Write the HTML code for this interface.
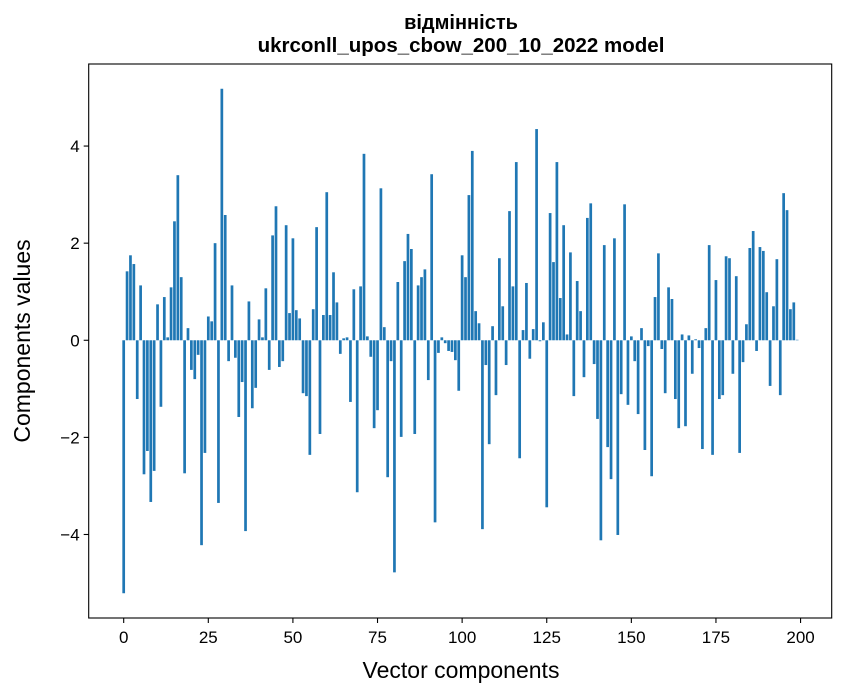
<!DOCTYPE html>
<html><head><meta charset="utf-8"><style>
html,body{margin:0;padding:0;background:#fff;}
svg{display:block;font-family:"Liberation Sans","DejaVu Sans",sans-serif;}
</style></head><body>
<svg id="chart" width="847" height="696" viewBox="0 0 847 696">
<rect width="847" height="696" fill="#fff"/>
<text x="461" y="29" text-anchor="middle" font-size="20" font-weight="bold">відмінність</text>
<text x="461" y="52" text-anchor="middle" font-size="20.5" font-weight="bold">ukrconll_upos_cbow_200_10_2022 model</text>
<g id="bars"></g>
<g id="xticks"></g>
<g id="yticks"></g>
<rect x="88.7" y="64" width="743" height="554" fill="none" stroke="#000" stroke-width="1.1"/>
<text x="461" y="678" text-anchor="middle" font-size="23">Vector components</text>
<text transform="translate(30,341) rotate(-90)" text-anchor="middle" font-size="23">Components values</text>
</svg>
<script>
const values = [-5.21,1.42,1.75,1.57,-1.21,1.13,-2.76,-2.28,-3.33,-2.69,
0.74,-1.37,0.89,0.06,1.09,2.45,3.40,1.30,-2.74,0.25,
-0.61,-0.80,-0.30,-4.22,-2.32,0.49,0.39,2.0,-3.35,5.18,
2.58,-0.43,1.13,-0.36,-1.58,-0.86,-3.93,0.80,-1.40,-0.98,
0.43,0.06,1.07,-0.61,2.16,2.76,-0.55,-0.43,2.37,0.56,
2.10,0.62,0.45,-1.09,-1.15,-2.36,0.64,2.33,-1.93,0.52,
3.05,0.52,1.40,0.78,-0.28,0.04,0.06,-1.27,1.05,-3.13,
1.11,3.84,0.08,-0.34,-1.81,-1.44,3.13,0.27,-2.82,-0.43,
-4.78,1.20,-1.99,1.63,2.19,1.88,-1.93,1.13,1.30,1.46,
-0.82,3.42,-3.75,-0.26,0.06,-0.06,-0.22,-0.24,-0.41,-1.04,
1.75,1.30,2.99,3.90,0.60,0.35,-3.89,-0.51,-2.14,0.29,
-1.13,1.69,0.70,-0.51,2.66,1.11,3.67,-2.43,0.21,1.18,
-0.38,0.23,4.35,-0.02,0.37,-3.44,2.62,1.61,3.67,0.87,
2.37,0.12,1.81,-1.15,1.22,0.60,-0.76,2.52,2.82,-0.49,
-1.62,-4.12,1.96,-2.20,-2.86,2.10,-4.01,-1.11,2.80,-1.33,
0.08,-0.43,-1.52,0.25,-2.26,-0.12,-2.80,0.89,1.79,-0.18,
-1.09,1.09,0.85,-1.21,-1.81,0.12,-1.77,0.10,-0.69,0.02,
-0.16,-2.24,0.25,1.96,-2.36,1.24,-1.21,-1.13,1.73,1.69,
-0.69,1.32,-2.32,-0.45,0.33,1.90,2.25,-0.22,1.92,1.84,
0.99,-0.94,0.70,1.67,-1.13,3.03,2.68,0.64,0.78,0.01];
const xTickValues = [0,25,50,75,100,125,150,175,200];
const yTickValues = [-4,-2,0,2,4];
const yTickLabels = ["\u22124","\u22122","0","2","4"];

const NS = "http://www.w3.org/2000/svg";
const X0 = 88.7, X1 = 831.7, Y0 = 64, Y1 = 618;
const xMin = -10.34, xMax = 209.2, yMin = -5.72, yMax = 5.69;
function xs(v){ return X0 + (v - xMin) / (xMax - xMin) * (X1 - X0); }
function ys(v){ return Y1 - (v - yMin) / (yMax - yMin) * (Y1 - Y0); }

const bars = document.getElementById('bars');
values.forEach((v, i) => {
  const r = document.createElementNS(NS, 'rect');
  const xl = xs(i - 0.4), xr = xs(i + 0.4);
  const ya = ys(Math.max(v, 0)), yb = ys(Math.min(v, 0));
  r.setAttribute('x', xl);
  r.setAttribute('width', xr - xl);
  r.setAttribute('y', ya);
  r.setAttribute('height', Math.max(yb - ya, 0.01));
  r.setAttribute('fill', '#1f77b4');
  
  
  bars.appendChild(r);
});

const xt = document.getElementById('xticks');
xTickValues.forEach(v => {
  const x = xs(v);
  const l = document.createElementNS(NS, 'line');
  l.setAttribute('x1', x); l.setAttribute('x2', x);
  l.setAttribute('y1', Y1); l.setAttribute('y2', Y1 + 5);
  l.setAttribute('stroke', '#000'); l.setAttribute('stroke-width', '1.1');
  
  
  xt.appendChild(l);
  const t = document.createElementNS(NS, 'text');
  t.setAttribute('x', x); t.setAttribute('y', Y1 + 25);
  t.setAttribute('text-anchor', 'middle'); t.setAttribute('font-size', '17');
  t.textContent = String(v);
  
  
  xt.appendChild(t);
});

const yt = document.getElementById('yticks');
yTickValues.forEach((v, k) => {
  const y = ys(v);
  const l = document.createElementNS(NS, 'line');
  l.setAttribute('x1', X0 - 5); l.setAttribute('x2', X0);
  l.setAttribute('y1', y); l.setAttribute('y2', y);
  l.setAttribute('stroke', '#000'); l.setAttribute('stroke-width', '1.1');
  
  
  yt.appendChild(l);
  const t = document.createElementNS(NS, 'text');
  t.setAttribute('x', X0 - 9); t.setAttribute('y', y + 6);
  t.setAttribute('text-anchor', 'end'); t.setAttribute('font-size', '17');
  t.textContent = yTickLabels[k];
  
  
  yt.appendChild(t);
});
</script>
</body></html>
